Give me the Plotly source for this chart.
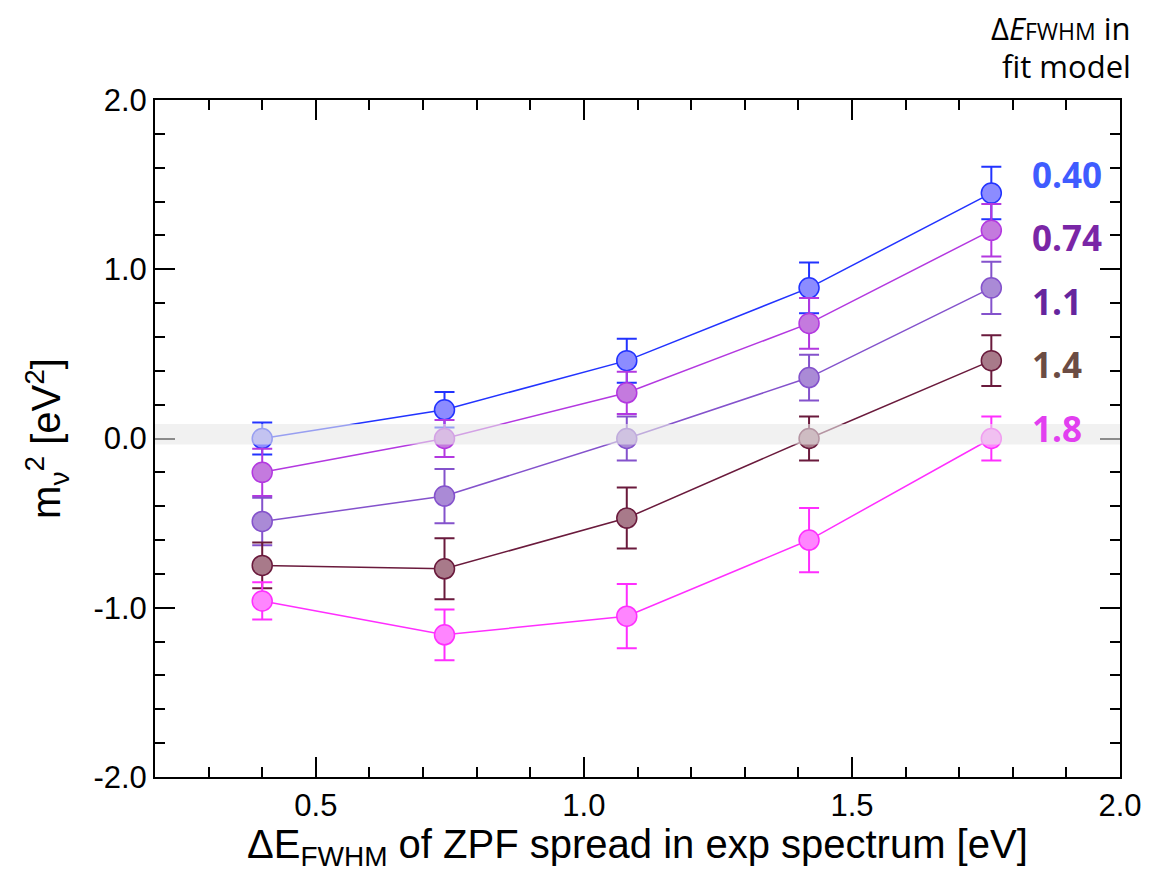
import plotly.graph_objects as go

# x positions: ZPF spread in experimental spectrum [eV]
x_fwhm = [0.40, 0.74, 1.08, 1.42, 1.76]

# fitted m_nu^2 [eV^2] for each Delta E_FWHM in the fit model
fit_labels = ["0.40", "0.74", "1.1", "1.4", "1.8"]
m2_040 = [0.00, 0.17, 0.46, 0.89, 1.45]
m2_074 = [-0.20, 0.00, 0.27, 0.68, 1.23]
m2_110 = [-0.49, -0.34, 0.00, 0.36, 0.89]
m2_140 = [-0.75, -0.77, -0.47, 0.00, 0.46]
m2_180 = [-0.96, -1.16, -1.05, -0.60, 0.00]

err_040 = [0.095, 0.105, 0.13, 0.15, 0.155]
err_074 = [0.14, 0.11, 0.125, 0.15, 0.155]
err_110 = [0.14, 0.16, 0.13, 0.135, 0.155]
err_140 = [0.135, 0.18, 0.18, 0.13, 0.15]
err_180 = [0.11, 0.15, 0.19, 0.19, 0.13]

y_ticks = [-2.0, -1.0, 0.0, 1.0, 2.0]
y_ticktext = ["-2.0", "-1.0", "0.0", "1.0", "2.0"]
x_ticks = [0.5, 1.0, 1.5, 2.0]
x_ticktext = ["0.5", "1.0", "1.5", "2.0"]

series = [
    (m2_040, err_040, "#2233ff", "#8c8cff", "#3f5cff"),
    (m2_074, err_074, "#b338e0", "#c47ade", "#7a26a6"),
    (m2_110, err_110, "#8452cc", "#aa8ad6", "#65259e"),
    (m2_140, err_140, "#6a1a3c", "#a87a8a", "#6b4c44"),
    (m2_180, err_180, "#ff2eff", "#ff85ff", "#e23ff0"),
]
label_y = [1.56, 1.185, 0.81, 0.44, 0.06]

fig = go.Figure()
for (vals, errs, line_c, fill_c, _), name in zip(series, fit_labels):
    fig.add_trace(go.Scatter(
        x=x_fwhm, y=vals, name=name, mode="lines+markers",
        line=dict(color=line_c, width=1.5),
        marker=dict(size=20, color=fill_c, line=dict(color=line_c, width=1.5)),
        error_y=dict(type="data", array=errs, color=line_c, thickness=2, width=10),
    ))

for (_, _, _, _, text_c), name, ly in zip(series, fit_labels, label_y):
    fig.add_annotation(
        x=1.833, y=ly, xref="x", yref="y", text="<b>%s</b>" % name,
        showarrow=False, xanchor="left", yanchor="middle",
        font=dict(family="Open Sans", size=35, color=text_c),
    )

# header above the labels, two lines
header_font = dict(family="Open Sans", size=31, color="black")
fig.add_annotation(
    x=1.0134, y=1.107, xref="paper", yref="paper",
    text="Δ<i>E</i><span style='font-size:23px'>FWHM</span> in",
    showarrow=False, xanchor="right", yanchor="middle", font=header_font,
)
fig.add_annotation(
    x=1.0134, y=1.050, xref="paper", yref="paper", text="fit model",
    showarrow=False, xanchor="right", yanchor="middle", font=header_font,
)

# x axis title as an annotation so it can sit closer to the tick labels
fig.add_annotation(
    x=0.5, y=-0.103, xref="paper", yref="paper",
    text="ΔE<sub>FWHM</sub> of ZPF spread in exp spectrum [eV]",
    showarrow=False, xanchor="center", yanchor="middle",
    font=dict(family="Liberation Sans", size=40, color="black"),
)

# grey band around zero, drawn over the data
fig.add_shape(
    type="rect", xref="paper", yref="y", x0=0, x1=1, y0=-0.035, y1=0.085,
    fillcolor="rgba(232,232,232,0.6)", line=dict(width=0), layer="above",
)

axis_common = dict(
    showline=True, linecolor="black", linewidth=2, mirror="ticks",
    ticks="inside", ticklen=20, tickwidth=2, tickcolor="black",
    showgrid=False, zeroline=False,
    tickfont=dict(family="Liberation Sans", size=31, color="black"),
)

fig.update_xaxes(
    range=[0.2, 2.0], tickvals=x_ticks, ticktext=x_ticktext,
    minor=dict(ticks="inside", dtick=0.1, ticklen=10, tickwidth=2, tickcolor="black"),
    **axis_common,
)
fig.update_yaxes(
    range=[-2.0, 2.0], tickvals=y_ticks, ticktext=y_ticktext,
    minor=dict(ticks="inside", dtick=0.2, ticklen=10, tickwidth=2, tickcolor="black"),
    title=dict(text="m<sub>ν</sub><sup>2</sup> [eV<sup>2</sup>]",
               font=dict(family="Liberation Sans", size=40, color="black"), standoff=20),
    **axis_common,
)

fig.update_layout(
    width=1146, height=868,
    margin=dict(l=147, r=32, t=92, b=99),
    plot_bgcolor="white", paper_bgcolor="white",
    showlegend=False,
)

fig.write_html("out.html")
